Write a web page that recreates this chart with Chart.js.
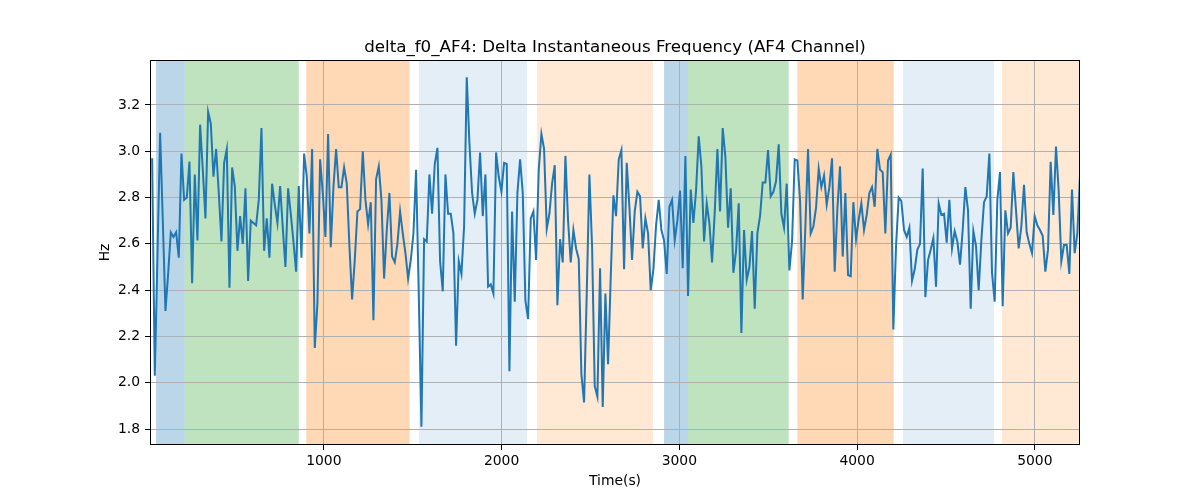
<!DOCTYPE html>
<html>
<head>
<meta charset="utf-8">
<script src="https://cdn.jsdelivr.net/npm/chart.js@4.4.1/dist/chart.umd.min.js"></script>
<style>
  html, body { margin: 0; padding: 0; background: #fff; }
  #wrap { width: 1200px; height: 500px; }
</style>
</head>
<body>
<div id="wrap"><canvas id="chart" width="1200" height="500"></canvas></div>
<script>
"use strict";

// sampling grid of the signal (seconds)
const t0 = 34;
const dt = 15;

// delta f0 (Hz) left to right
const hzPart1 = [2.97, 2.03, 2.55, 3.08, 2.70, 2.31, 2.47, 2.65, 2.63, 2.65,
  2.54, 2.99, 2.79, 2.80, 2.955, 2.43, 2.90, 2.615, 3.115, 2.92,
  2.71, 3.17, 3.12, 2.89, 3.01, 2.82, 2.61, 2.95, 3.01, 2.41,
  2.93, 2.85, 2.57, 2.72, 2.60, 2.84, 2.44, 2.70, 2.69, 2.68,
  2.79, 3.10, 2.57, 2.71, 2.54, 2.86, 2.77, 2.69, 2.85, 2.67,
  2.50, 2.84, 2.73, 2.61, 2.48, 2.85, 2.54, 2.99, 2.89];
const hzPart2 = [2.645, 3.01, 2.15, 2.345, 2.965, 2.82, 2.63, 3.075, 2.585, 2.845,
  3.01, 2.845, 2.845, 2.93, 2.86, 2.59, 2.36, 2.53, 2.74, 2.75,
  3.00, 2.79, 2.685, 2.78, 2.27, 2.88, 2.935, 2.79, 2.45, 2.66,
  2.82, 2.545, 2.52, 2.60, 2.74, 2.645, 2.56, 2.45, 2.53, 2.645,
  2.92, 2.385, 1.81, 2.62, 2.61, 2.90, 2.73, 2.945, 3.015, 2.525,
  2.395, 2.90, 2.73, 2.73, 2.645, 2.16, 2.525, 2.47];
const hzPart3 = [2.675, 3.32, 3.035, 2.82, 2.73, 2.79, 2.995, 2.72, 2.90, 2.415,
  2.425, 2.385, 2.995, 2.89, 2.825, 2.95, 2.945, 2.05, 2.74, 2.35,
  2.82, 2.965, 2.82, 2.355, 2.275, 2.71, 2.74, 2.53, 2.92, 3.075,
  3.01, 2.665, 2.73, 2.86, 2.94, 2.335, 2.62, 2.52, 2.98, 2.70,
  2.52, 2.66, 2.58, 2.535, 2.035, 1.915, 2.385, 2.90, 2.59, 1.985,
  1.94, 2.495, 1.895, 2.385, 2.08, 2.455, 2.81, 2.72];
const hzPart4 = [2.965, 3.005, 2.49, 2.95, 2.76, 2.53, 2.74, 2.825, 2.805, 2.58,
  2.71, 2.645, 2.40, 2.49, 2.68, 2.79, 2.66, 2.615, 2.47, 2.76,
  2.79, 2.615, 2.70, 2.83, 2.495, 2.98, 2.375, 2.835, 2.69, 2.83,
  3.065, 2.935, 2.61, 2.775, 2.69, 2.52, 2.735, 3.01, 2.74, 3.10,
  2.975, 2.67, 2.84, 2.475, 2.57, 2.775, 2.215, 2.66, 2.445, 2.50,
  2.655, 2.32, 2.645, 2.72, 2.865, 2.865, 3.005, 2.805];
const hzPart5 = [2.825, 2.87, 3.03, 2.73, 2.67, 2.86, 2.485, 2.61, 2.965, 2.96,
  2.79, 2.36, 2.675, 3.01, 2.645, 2.675, 2.755, 2.925, 2.845, 2.895,
  2.77, 2.845, 2.97, 2.48, 2.75, 2.935, 2.545, 2.82, 2.465, 2.46,
  2.78, 2.62, 2.705, 2.775, 2.66, 2.725, 2.82, 2.845, 2.76, 3.01,
  2.92, 2.91, 2.645, 2.96, 2.985, 2.23, 2.59, 2.80, 2.785, 2.66,
  2.63, 2.67, 2.44, 2.49, 2.575, 2.60, 2.925, 2.37];
const hzPart6 = [2.53, 2.575, 2.625, 2.415, 2.775, 2.725, 2.73, 2.605, 2.79, 2.58,
  2.655, 2.61, 2.51, 2.66, 2.845, 2.745, 2.32, 2.655, 2.59, 2.40,
  2.615, 2.78, 2.805, 2.99, 2.475, 2.35, 2.79, 2.91, 2.33, 2.745,
  2.645, 2.67, 2.91, 2.745, 2.58, 2.675, 2.855, 2.65, 2.60, 2.56,
  2.72, 2.68, 2.66, 2.635, 2.48, 2.575, 2.955, 2.725, 3.02, 2.83,
  2.525, 2.595, 2.595, 2.47, 2.835, 2.56, 2.645, 2.895];

// shaded phases (seconds)
const bandStart = [56, 217, 901, 1535, 2199, 2914, 3049, 3664, 4258, 4815];
const bandEnd   = [217, 859, 1483, 2143, 2852, 3049, 3615, 4206, 4770, 5254];
const bandKind  = ['blue', 'green', 'orange', 'ltblue', 'ltorange',
                   'blue', 'green', 'orange', 'ltblue', 'ltorange'];

const xTicks = [1000, 2000, 3000, 4000, 5000];
const yTicks = [1.8, 2.0, 2.2, 2.4, 2.6, 2.8, 3.0, 3.2];

const titleText = 'delta_f0_AF4: Delta Instantaneous Frequency (AF4 Channel)';
const xTitle = 'Time(s)';
const yTitle = 'Hz';

const hz = [].concat(hzPart1, hzPart2, hzPart3, hzPart4, hzPart5, hzPart6);
const points = hz.map(function(v, i) { return {x: t0 + i * dt, y: v}; });

const bandFill = {
  blue: 'rgba(31, 119, 180, 0.3)',
  green: 'rgba(44, 160, 44, 0.3)',
  orange: 'rgba(255, 127, 14, 0.3)',
  ltblue: 'rgba(31, 119, 180, 0.12)',
  ltorange: 'rgba(255, 127, 14, 0.18)'
};

const FONT = '"DejaVu Sans", sans-serif';

const decor = {
  id: 'decor',
  beforeDraw: function(chart) {
    const ctx = chart.ctx, a = chart.chartArea, xs = chart.scales.x;
    ctx.save();
    ctx.beginPath();
    ctx.rect(a.left, a.top, a.right - a.left, a.bottom - a.top);
    ctx.clip();
    for (let i = 0; i < bandStart.length; i++) {
      const x1 = xs.getPixelForValue(bandStart[i]);
      const x2 = xs.getPixelForValue(bandEnd[i]);
      ctx.fillStyle = bandFill[bandKind[i]];
      ctx.fillRect(x1, a.top, x2 - x1, a.bottom - a.top);
    }
    ctx.restore();
  },
  afterDraw: function(chart) {
    const ctx = chart.ctx, a = chart.chartArea;
    ctx.save();
    ctx.strokeStyle = '#000';
    ctx.lineWidth = 1;
    ctx.strokeRect(Math.round(a.left) + 0.5, Math.round(a.top) + 0.5,
                   Math.round(a.right - a.left) - 1, Math.round(a.bottom - a.top) - 1);
    ctx.fillStyle = '#000';
    ctx.textAlign = 'center';
    ctx.textBaseline = 'alphabetic';
    ctx.font = '16.7px ' + FONT;
    ctx.fillText(titleText, (a.left + a.right) / 2, 52);
    ctx.font = '13.9px ' + FONT;
    ctx.textBaseline = 'middle';
    ctx.fillText(xTitle, (a.left + a.right) / 2, 481);
    ctx.translate(105, (a.top + a.bottom) / 2);
    ctx.rotate(-Math.PI / 2);
    ctx.fillText(yTitle, 0, 0);
    ctx.restore();
  }
};

new Chart('chart', {
  type: 'line',
  data: {
    datasets: [{
      data: points,
      borderColor: '#1f77b4',
      borderWidth: 2,
      pointRadius: 0,
      tension: 0,
      fill: false
    }]
  },
  options: {
    responsive: false,
    animation: false,
    devicePixelRatio: 1,
    layout: { padding: { left: 0, right: 120, top: 60, bottom: 0 } },
    plugins: {
      legend: { display: false },
      tooltip: { enabled: false },
      title: { display: false }
    },
    scales: {
      x: {
        type: 'linear',
        min: 22,
        max: 5254,
        afterFit: function(s) { s.height = 55; },
        afterBuildTicks: function(s) { s.ticks = xTicks.map(function(v) { return {value: v}; }); },
        grid: { color: '#b0b0b0', lineWidth: 1, tickColor: '#000', tickLength: 5 },
        border: { display: false },
        ticks: {
          color: '#000', font: { family: FONT, size: 13.9 }, padding: 3,
          maxRotation: 0, autoSkip: false,
          callback: function(v) { return String(v); }
        }
      },
      y: {
        type: 'linear',
        min: 1.7309,
        max: 3.3944,
        afterFit: function(s) { s.width = 150; },
        afterBuildTicks: function(s) { s.ticks = yTicks.map(function(v) { return {value: v}; }); },
        grid: { color: '#b0b0b0', lineWidth: 1, tickColor: '#000', tickLength: 5 },
        border: { display: false },
        ticks: {
          color: '#000', font: { family: FONT, size: 13.9 }, padding: 5,
          autoSkip: false,
          callback: function(v) { return Number(v).toFixed(1); }
        }
      }
    }
  },
  plugins: [decor]
});
</script>
</body>
</html>
